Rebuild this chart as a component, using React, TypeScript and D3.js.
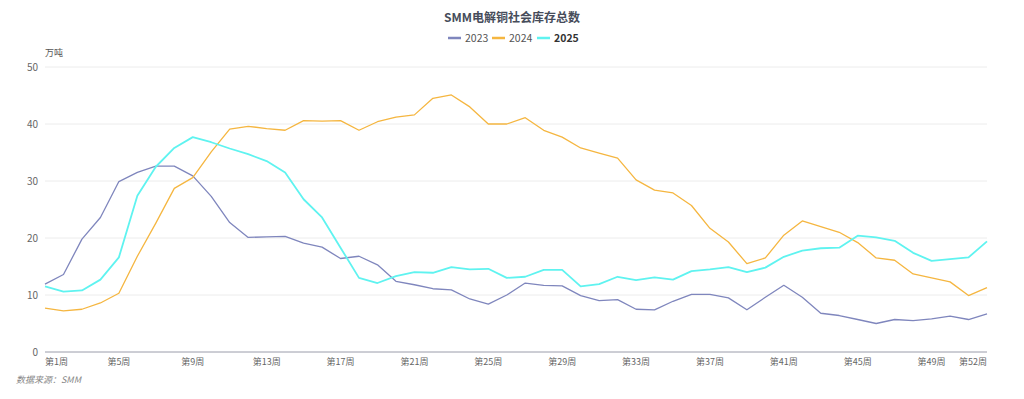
import React, { useEffect, useRef } from 'react'
import * as d3 from 'd3'

const weeks = d3.range(1, 53).map(w => `第${w}周`)
const shownWeeks = [1, 5, 9, 13, 17, 21, 25, 29, 33, 37, 41, 45, 49, 52]
const yTicks = [0, 10, 20, 30, 40, 50]

const s2023 = [11.9, 13.6, 19.8, 23.6, 29.9, 31.5, 32.6, 32.6, 30.9, 27.3, 22.7, 20.1, 20.2, 20.3, 19.1, 18.4, 16.4, 16.8, 15.3, 12.4,
  11.8, 11.1, 10.9, 9.3, 8.4, 10.0, 12.1, 11.7, 11.6, 9.9, 9.0, 9.2, 7.5, 7.4, 8.9, 10.1, 10.1, 9.5, 7.4, 9.6,
  11.7, 9.6, 6.8, 6.4, 5.7, 5.0, 5.7, 5.5, 5.8, 6.3, 5.7, 6.7]
const s2024 = [7.7, 7.2, 7.5, 8.6, 10.3, 16.8, 22.6, 28.7, 30.6, 35.1, 39.1, 39.6, 39.2, 38.9, 40.6, 40.5, 40.6, 38.9, 40.4, 41.2,
  41.6, 44.5, 45.1, 43.0, 40.0, 40.0, 41.1, 38.9, 37.7, 35.8, 34.9, 34.0, 30.2, 28.4, 27.9, 25.7, 21.7, 19.3, 15.5, 16.5,
  20.5, 23.0, 22.0, 21.0, 19.2, 16.5, 16.1, 13.7, 13.0, 12.3, 9.9, 11.3]
const s2025 = [11.5, 10.6, 10.8, 12.7, 16.6, 27.4, 32.5, 35.8, 37.7, 36.8, 35.7, 34.7, 33.5, 31.5, 26.8, 23.6, 18.3, 13.0, 12.1, 13.3,
  14.0, 13.9, 14.9, 14.5, 14.6, 13.0, 13.2, 14.4, 14.4, 11.5, 11.9, 13.2, 12.6, 13.1, 12.7, 14.2, 14.5, 14.9, 14.0, 14.8,
  16.7, 17.8, 18.2, 18.3, 20.4, 20.1, 19.5, 17.4, 16.0, 16.3, 16.6, 19.4]

const seriesNames = ['2023', '2024', '2025']
const seriesData = [s2023, s2024, s2025]
const colors = ['#7f86bd', '#f5b640', '#5ff3f0']
const widths = [1.3, 1.3, 1.8]

const W = 1024
const H = 399
const margin = { left: 45, right: 37, top: 67, bottom: 47 }
const font = '"Noto Sans CJK SC", "Noto Sans", sans-serif'

export default function App() {
  const ref = useRef<SVGSVGElement>(null)

  useEffect(() => {
    const svg = d3.select(ref.current)
    svg.selectAll('*').remove()

    const x = d3.scalePoint().domain(weeks).range([margin.left, W - margin.right])
    const y = d3.scaleLinear().domain([0, 50]).range([H - margin.bottom, margin.top])

    // grid
    svg.append('g')
      .selectAll('line')
      .data(yTicks.filter(t => t > 0))
      .join('line')
      .attr('x1', margin.left)
      .attr('x2', W - margin.right)
      .attr('y1', d => y(d))
      .attr('y2', d => y(d))
      .attr('stroke', '#ececec')
      .attr('stroke-width', 1)

    // y labels
    svg.append('g')
      .selectAll('text')
      .data(yTicks)
      .join('text')
      .attr('x', margin.left - 7)
      .attr('y', d => y(d))
      .attr('dy', '0.35em')
      .attr('text-anchor', 'end')
      .attr('font-size', 10)
      .attr('fill', '#666')
      .text(d => d)

    svg.append('text')
      .attr('x', margin.left)
      .attr('y', 56)
      .attr('font-size', 9)
      .attr('fill', '#555')
      .text('万吨')

    // x axis
    svg.append('line')
      .attr('x1', margin.left)
      .attr('x2', W - margin.right)
      .attr('y1', y(0))
      .attr('y2', y(0))
      .attr('stroke', '#9a9caa')
      .attr('stroke-width', 1)

    svg.append('g')
      .selectAll('text')
      .data(shownWeeks)
      .join('text')
      .attr('x', d => x(weeks[d - 1]) as number)
      .attr('y', y(0) + 13)
      .attr('text-anchor', d => d === 1 ? 'start' : d === 52 ? 'end' : 'middle')
      .attr('font-size', 9)
      .attr('fill', '#666')
      .text(d => weeks[d - 1])

    const line = d3.line<number>()
      .x((d, i) => x(weeks[i]) as number)
      .y(d => y(d))

    svg.append('g')
      .selectAll('path')
      .data(seriesData)
      .join('path')
      .attr('d', d => line(d))
      .attr('fill', 'none')
      .attr('stroke', (d, i) => colors[i])
      .attr('stroke-width', (d, i) => widths[i])
      .attr('stroke-linejoin', 'round')

    // title
    svg.append('text')
      .attr('x', W / 2)
      .attr('y', 22)
      .attr('text-anchor', 'middle')
      .attr('font-size', 12)
      .attr('font-weight', 'bold')
      .attr('fill', '#464c5a')
      .text('SMM电解铜社会库存总数')

    // legend
    const legendX = [448, 492, 537]
    const lg = svg.append('g')
      .selectAll('g')
      .data(seriesNames)
      .join('g')
      .attr('transform', (d, i) => `translate(${legendX[i]},38)`)
    lg.append('line')
      .attr('x1', 0)
      .attr('x2', 13)
      .attr('stroke', (d, i) => colors[i])
      .attr('stroke-width', 2.5)
    lg.append('text')
      .attr('x', 17)
      .attr('dy', '0.35em')
      .attr('font-size', 10.5)
      .attr('font-weight', (d, i) => i === 2 ? 'bold' : 'normal')
      .attr('fill', (d, i) => i === 2 ? '#333' : '#555')
      .text(d => d)

    svg.append('text')
      .attr('x', 16)
      .attr('y', 383)
      .attr('font-size', 9)
      .attr('font-style', 'italic')
      .attr('fill', '#888')
      .text('数据来源：SMM')
  }, [])

  return (
    <svg ref={ref} width={W} height={H} style={{ position: 'absolute', left: 0, top: 0, fontFamily: font }} />
  )
}
